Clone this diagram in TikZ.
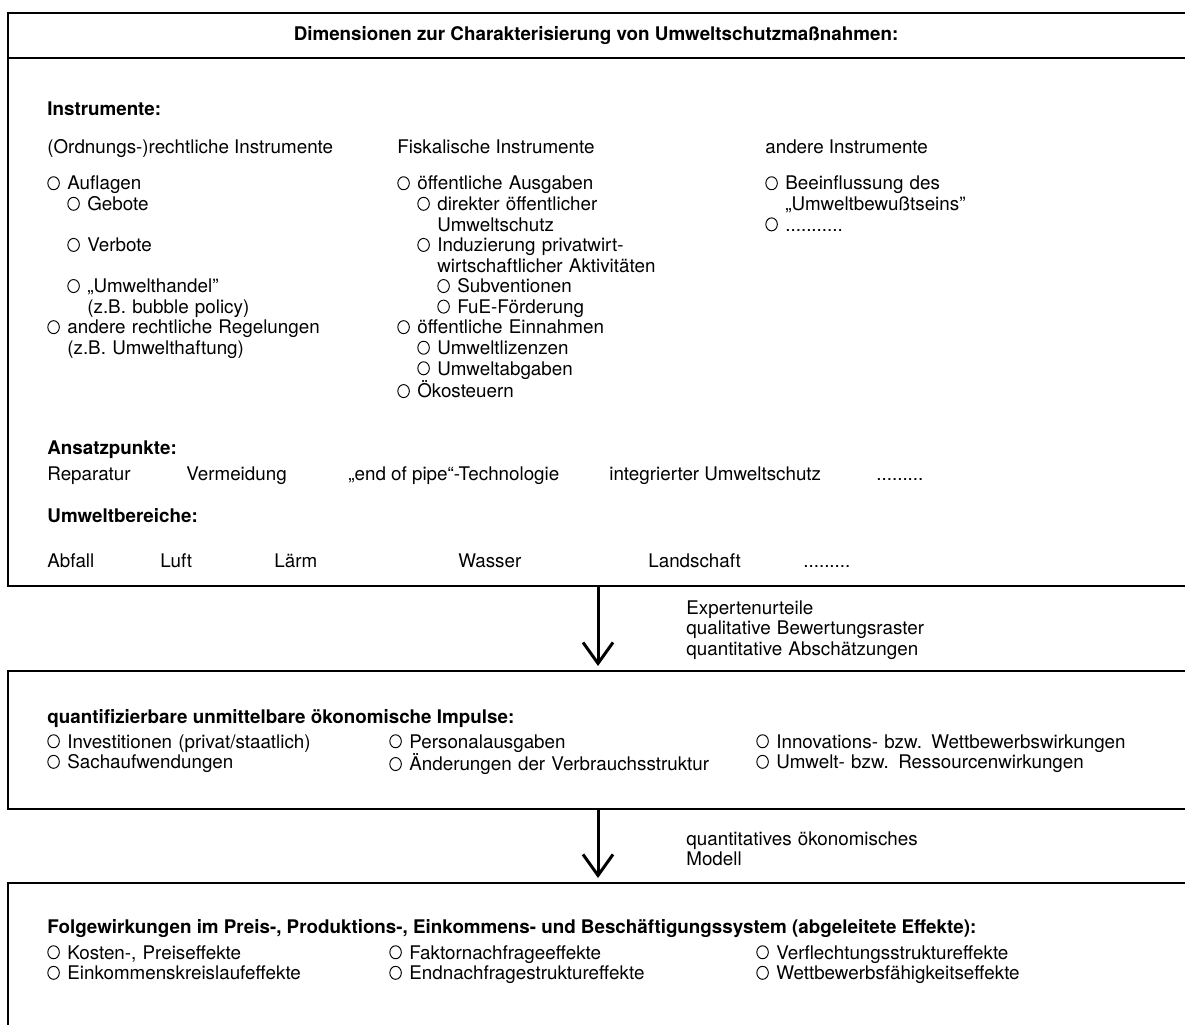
\documentclass[tikz,border=0pt]{standalone}
\usepackage{fontspec}
\setmainfont{TeX Gyre Heros}
\usetikzlibrary{arrows.meta}

\newcommand{\grundschrift}{\fontsize{10.7pt}{11.7pt}\selectfont}
\newcommand{\kreis}{\makebox[4mm][l]{\tikz[baseline=0pt]\draw[line width=0.55pt] (1.2mm,1.35mm) ellipse [x radius=1.15mm, y radius=1.3mm];}}

\tikzset{
  rahmen/.style={draw, line width=1.2pt, inner sep=0pt, outer sep=0pt, anchor=north west, minimum width=236mm},
  kopf/.style={font=\grundschrift\bfseries, anchor=base west, inner sep=0pt},
  eintrag/.style={font=\grundschrift, anchor=base west, inner sep=0pt},
  liste/.style={eintrag, text width=85mm, align=left},
  pfeil/.style={line width=1.7pt, -{Straight Barb[length=4.2mm, width=6mm]}},
}

\begin{document}
\begin{tikzpicture}[x=0.2mm, y=-0.2mm]
  \useasboundingbox (0,0) rectangle (1185,1025);

  % Dimensionen
  \node[rahmen, minimum height=114.6mm] (dims) at (8,13) {};
  \draw[line width=1.2pt] (8,58) -- (1188,58);
  \node[kopf, anchor=base] (titel) at (596,41) {Dimensionen zur Charakterisierung von Umweltschutzmaßnahmen:};

  \node[kopf] (instr) at (47,116) {Instrumente:};
  \node[eintrag] (ordnung) at (47,154) {(Ordnungs-)rechtliche Instrumente};
  \node[eintrag] (fiskal) at (397,154) {Fiskalische Instrumente};
  \node[eintrag] (andere) at (765,154) {andere Instrumente};

  \node[liste] (ordliste) at (47,190) {
    \kreis Auflagen\\
    \hspace*{4mm}\kreis Gebote\\[\baselineskip]
    \hspace*{4mm}\kreis Verbote\\[\baselineskip]
    \hspace*{4mm}\kreis „Umwelthandel"\\
    \hspace*{8mm}(z.B. bubble policy)\\
    \kreis andere rechtliche Regelungen\\
    \hspace*{4mm}(z.B. Umwelthaftung)
  };
  \node[liste] (fiskliste) at (397,190) {
    \kreis öffentliche Ausgaben\\
    \hspace*{4mm}\kreis direkter öffentlicher\\
    \hspace*{8mm}Umweltschutz\\
    \hspace*{4mm}\kreis Induzierung privatwirt-\\
    \hspace*{8mm}wirtschaftlicher Aktivitäten\\
    \hspace*{8mm}\kreis Subventionen\\
    \hspace*{8mm}\kreis FuE-Förderung\\
    \kreis öffentliche Einnahmen\\
    \hspace*{4mm}\kreis Umweltlizenzen\\
    \hspace*{4mm}\kreis Umweltabgaben\\
    \kreis Ökosteuern
  };
  \node[liste] (andliste) at (765,190) {
    \kreis Beeinflussung des\\
    \hspace*{4mm}„Umweltbewußtseins"\\
    \kreis ...........
  };

  % Ansatzpunkte
  \node[kopf] (ansatz) at (47,454) {Ansatzpunkte:};
  \node[eintrag] (rep) at (47,480) {Reparatur};
  \node[eintrag] (verm) at (186,480) {Vermeidung};
  \node[eintrag] (eop) at (348,480) {„end of pipe“-Technologie};
  \node[eintrag] (integ) at (609,480) {integrierter Umweltschutz};
  \node[eintrag] (ansdots) at (876,480) {.........};

  % Umweltbereiche
  \node[kopf] (bereiche) at (47,522) {Umweltbereiche:};
  \node[eintrag] (abfall) at (47,567) {Abfall};
  \node[eintrag] (luft) at (160,567) {Luft};
  \node[eintrag] (laerm) at (274,567) {Lärm};
  \node[eintrag] (wasser) at (458,567) {Wasser};
  \node[eintrag] (landschaft) at (648,567) {Landschaft};
  \node[eintrag] (berdots) at (803,567) {.........};

  % Impulse
  \node[rahmen, minimum height=27.6mm] (impulse) at (8,671) {};
  \node[kopf] (imptitel) at (47,723) {quantifizierbare unmittelbare ökonomische Impulse:};
  \node[liste] (imp1) at (47,748) {\kreis Investitionen (privat/staatlich)\\\kreis Sachaufwendungen};
  \node[liste] (imp2) at (389,748) {\kreis Personalausgaben\\\kreis Änderungen der Verbrauchsstruktur};
  \node[liste] (imp3) at (756,748) {\kreis Innovations- bzw. Wettbewerbswirkungen\\\kreis Umwelt- bzw. Ressourcenwirkungen};

  % Folgewirkungen
  \node[rahmen, minimum height=30.4mm] (folge) at (8,883) {};
  \node[kopf] (folgetitel) at (47,933) {Folgewirkungen im Preis-, Produktions-, Einkommens- und Beschäftigungssystem (abgeleitete Effekte):};
  \node[liste] (folge1) at (47,959) {\kreis Kosten-, Preiseffekte\\\kreis Einkommenskreislaufeffekte};
  \node[liste] (folge2) at (389,959) {\kreis Faktornachfrageeffekte\\\kreis Endnachfragestruktureffekte};
  \node[liste] (folge3) at (756,959) {\kreis Verflechtungsstruktureffekte\\\kreis Wettbewerbsfähigkeitseffekte};

  % Pfeile
  \draw[pfeil] (dims.south) -- ([yshift=1mm]impulse.north);
  \node[liste] (experten) at (686,614) {Expertenurteile\\qualitative Bewertungsraster\\quantitative Abschätzungen};
  \draw[pfeil] (impulse.south) -- ([yshift=1mm]folge.north);
  \node[liste] (modell) at (686,845) {quantitatives ökonomisches\\Modell};
\end{tikzpicture}
\end{document}
